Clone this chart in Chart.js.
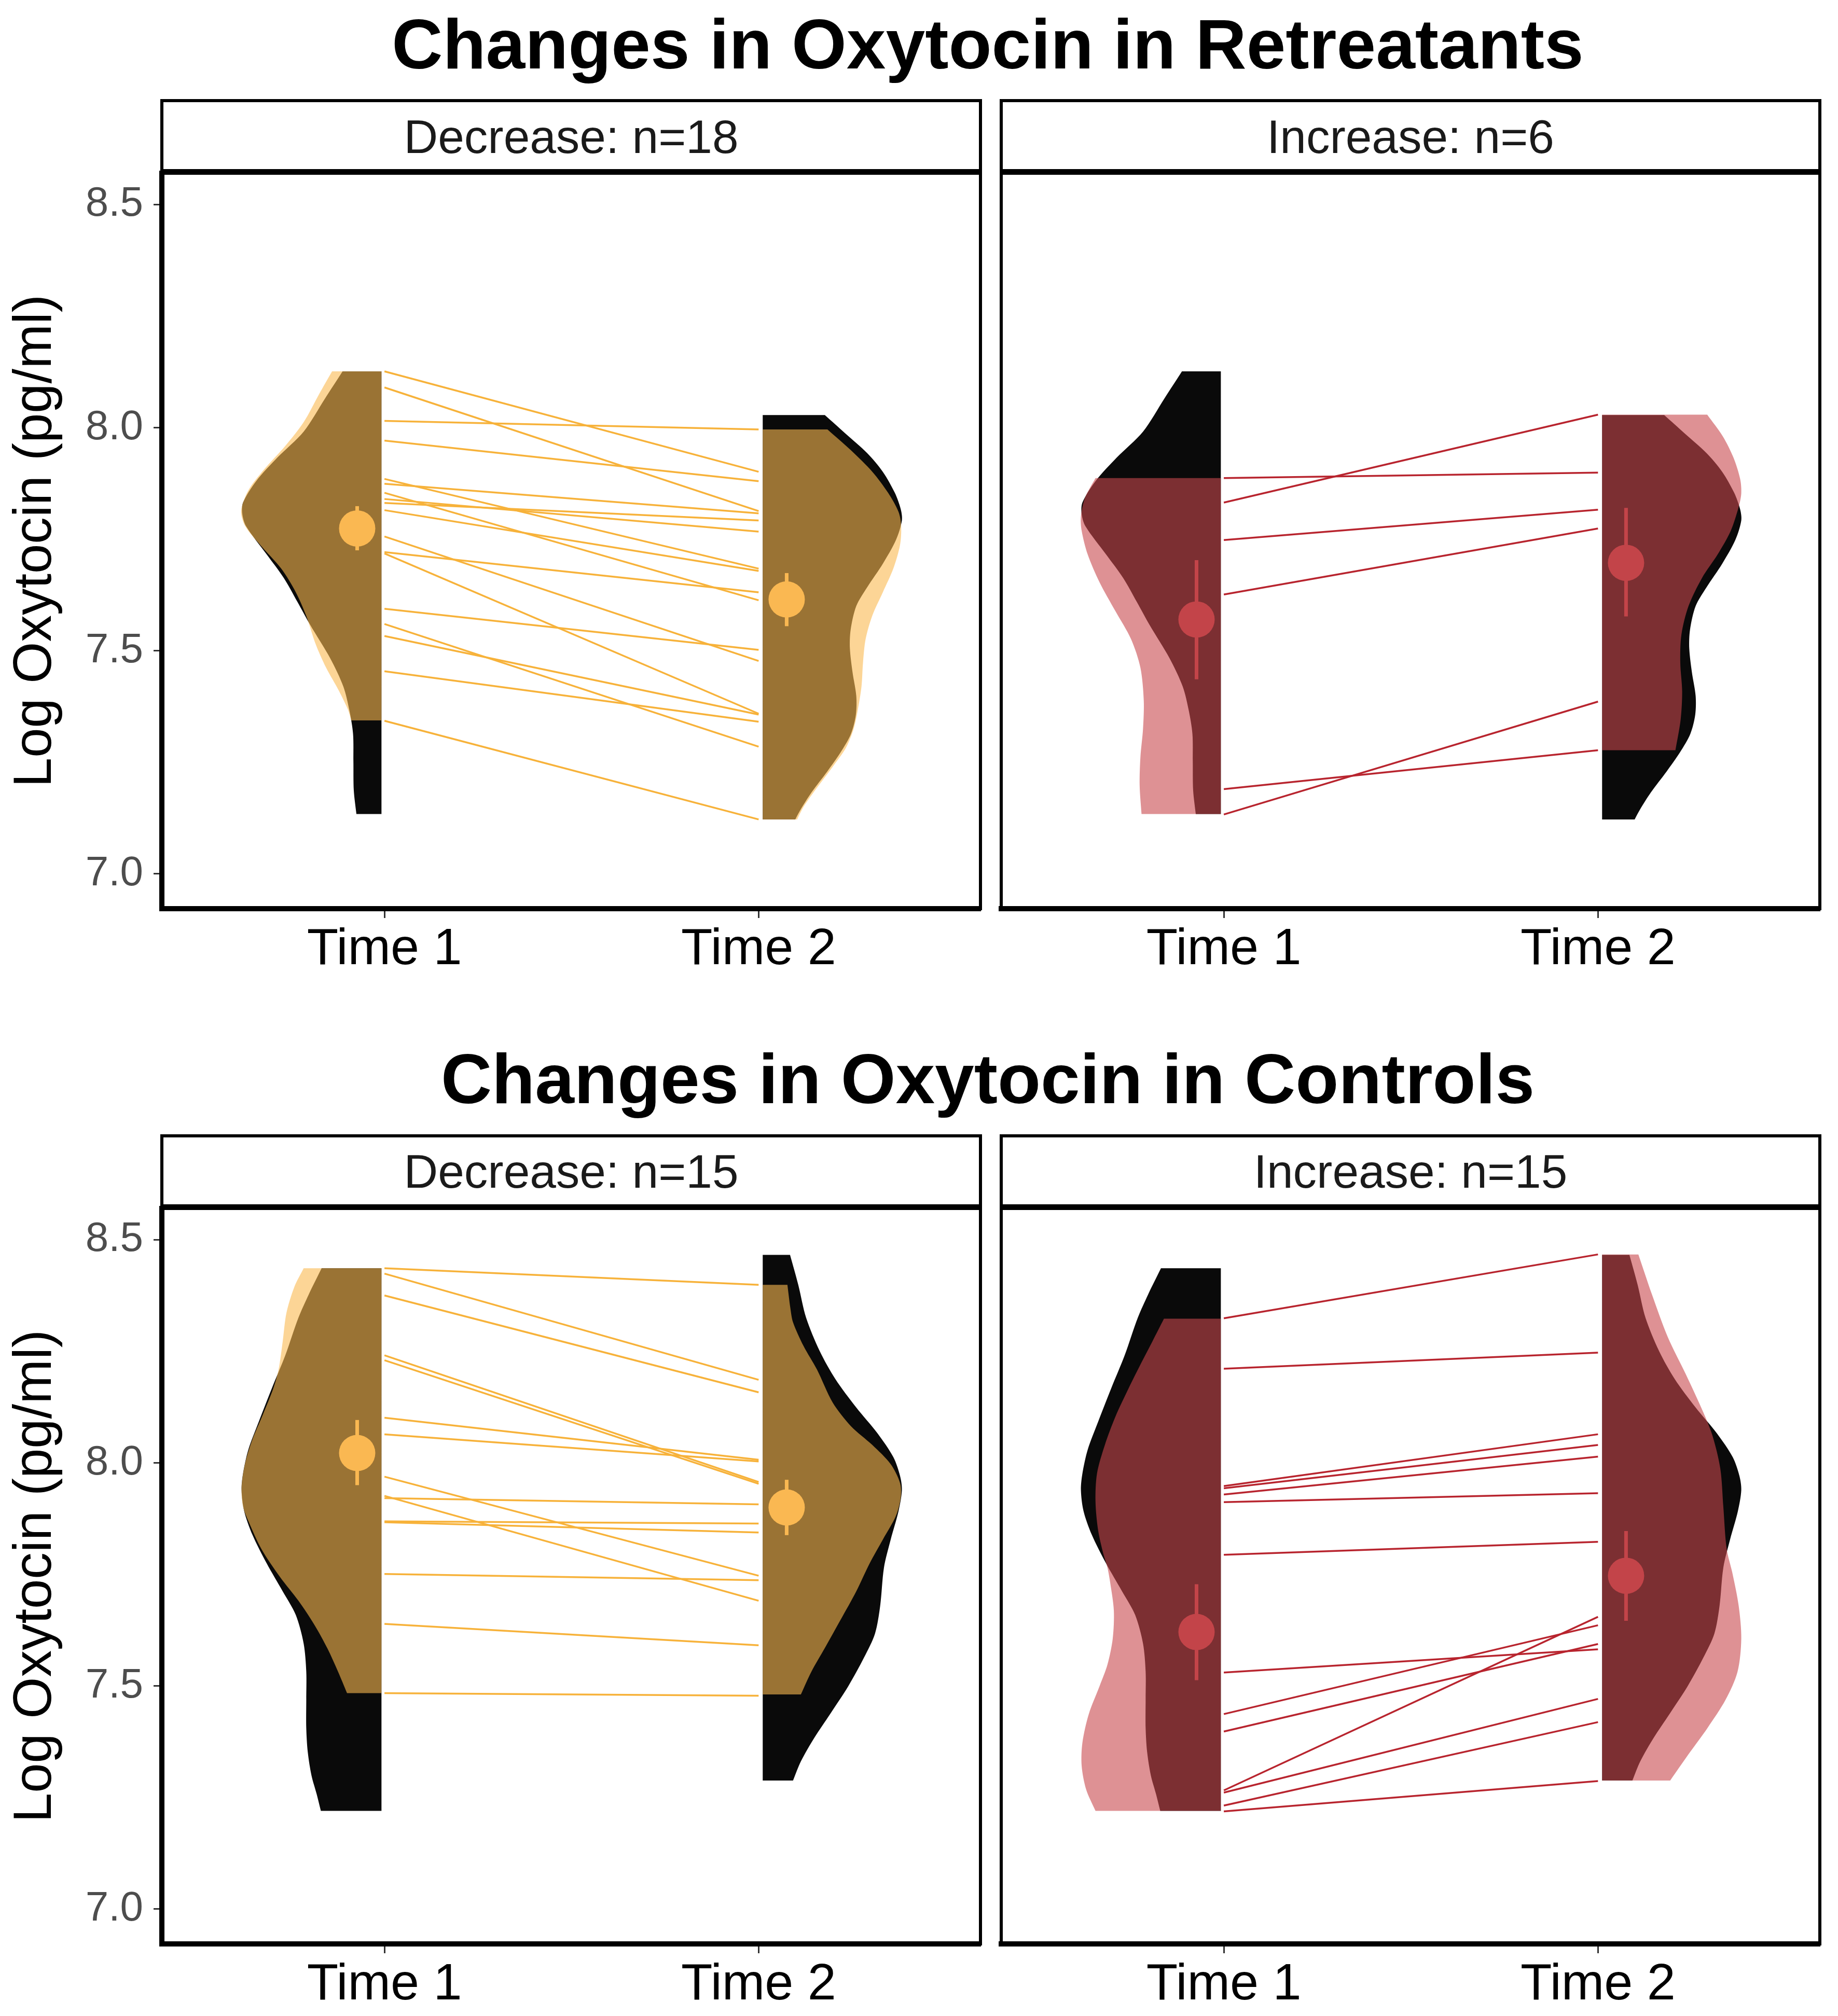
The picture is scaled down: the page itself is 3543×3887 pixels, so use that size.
<!DOCTYPE html>
<html>
<head>
<meta charset="utf-8">
<title>Changes in Oxytocin</title>
<script src="https://cdn.jsdelivr.net/npm/chart.js@4.4.1/dist/chart.umd.min.js"></script>
<style>
	body { margin: 0; background: #fff; }
	#page { position: relative; width: 3543px; height: 3887px; overflow: hidden; font-family: "Liberation Sans", Arial, Helvetica, sans-serif; }
	.title { position: absolute; left: 0; width: 3808px; text-align: center; font-weight: bold; font-size: 136px; line-height: 136px; white-space: nowrap; color: #000; }
	.strip { position: absolute; box-sizing: border-box; width: 1584px; height: 141px; border: 6px solid #000; background: #fff; }
	.strip-text { position: absolute; width: 1584px; text-align: center; font-size: 91px; line-height: 91px; white-space: nowrap; color: #1a1a1a; }
	canvas { position: absolute; }
</style>
</head>
<body>
<div id="page">
	<div class="title" style="top: 17px;">Changes in Oxytocin in Retreatants</div>
	<div class="strip" style="left: 309px; top: 191px;"></div>
	<div class="strip" style="left: 1927px; top: 191px;"></div>
	<div class="strip-text" style="left: 309px; top: 218px;">Decrease: n=18</div>
	<div class="strip-text" style="left: 1927px; top: 218px;">Increase: n=6</div>
	<canvas id="retDecrease" width="1902" height="1568" style="left: 0px; top: 322px;"></canvas>
	<canvas id="retIncrease" width="1610" height="1568" style="left: 1910px; top: 322px;"></canvas>

	<div class="title" style="top: 2012px;">Changes in Oxytocin in Controls</div>
	<div class="strip" style="left: 309px; top: 2187px;"></div>
	<div class="strip" style="left: 1927px; top: 2187px;"></div>
	<div class="strip-text" style="left: 309px; top: 2213px;">Decrease: n=15</div>
	<div class="strip-text" style="left: 1927px; top: 2213px;">Increase: n=15</div>
	<canvas id="conDecrease" width="1902" height="1568" style="left: 0px; top: 2318px;"></canvas>
	<canvas id="conIncrease" width="1610" height="1568" style="left: 1910px; top: 2318px;"></canvas>
</div>
<script>
// axes
const timeLabels = ["Time 1", "Time 2"];
const timeTicks = [1, 2];
const yTicks = [7.0, 7.5, 8.0, 8.5];
const violinPos = [0.992, 2.011];
const meanPos = [0.927, 2.075];

// whole-group density (black), retreatants
const retAllViolinT1Y = [8.126, 8.065, 7.991, 7.933, 7.880, 7.832, 7.806, 7.779, 7.716, 7.663, 7.610, 7.557, 7.483, 7.420, 7.367, 7.314, 7.251, 7.187, 7.134];
const retAllViolinT1W = [0.104, 0.151, 0.208, 0.278, 0.335, 0.370, 0.372, 0.362, 0.307, 0.261, 0.225, 0.190, 0.137, 0.102, 0.086, 0.076, 0.075, 0.074, 0.067];
const retAllViolinT2Y = [8.028, 7.986, 7.943, 7.901, 7.854, 7.817, 7.792, 7.748, 7.695, 7.642, 7.600, 7.547, 7.505, 7.452, 7.399, 7.357, 7.314, 7.272, 7.230, 7.182, 7.145, 7.122];
const retAllViolinT2W = [0.166, 0.222, 0.279, 0.321, 0.353, 0.369, 0.372, 0.356, 0.321, 0.279, 0.250, 0.235, 0.233, 0.240, 0.250, 0.249, 0.236, 0.208, 0.173, 0.130, 0.102, 0.087];

// whole-group density (black), controls
const conAllViolinT1Y = [8.436, 8.378, 8.325, 8.241, 8.167, 8.092, 8.029, 7.976, 7.939, 7.892, 7.839, 7.775, 7.712, 7.659, 7.595, 7.532, 7.469, 7.405, 7.352, 7.299, 7.257, 7.220];
const conAllViolinT1W = [0.160, 0.194, 0.222, 0.257, 0.293, 0.328, 0.356, 0.370, 0.374, 0.367, 0.345, 0.307, 0.264, 0.229, 0.208, 0.201, 0.201, 0.201, 0.197, 0.187, 0.173, 0.162];
const conAllViolinT2Y = [8.466, 8.399, 8.325, 8.251, 8.188, 8.124, 8.066, 8.013, 7.971, 7.939, 7.892, 7.828, 7.765, 7.680, 7.617, 7.564, 7.500, 7.437, 7.384, 7.331, 7.288];
const conAllViolinT2W = [0.073, 0.095, 0.116, 0.152, 0.194, 0.250, 0.307, 0.349, 0.367, 0.372, 0.363, 0.342, 0.324, 0.314, 0.300, 0.271, 0.229, 0.180, 0.138, 0.102, 0.081];

// retreatants, decrease
const retDecViolinT1Y = [8.126, 8.076, 8.012, 7.959, 7.906, 7.859, 7.813, 7.779, 7.737, 7.684, 7.631, 7.578, 7.515, 7.462, 7.409, 7.367, 7.344];
const retDecViolinT1W = [0.132, 0.166, 0.208, 0.257, 0.314, 0.356, 0.375, 0.364, 0.324, 0.268, 0.229, 0.201, 0.176, 0.148, 0.113, 0.089, 0.081];
const retDecViolinT2Y = [7.996, 7.949, 7.901, 7.854, 7.811, 7.780, 7.737, 7.684, 7.631, 7.579, 7.526, 7.473, 7.420, 7.367, 7.325, 7.282, 7.240, 7.193, 7.150, 7.122];
const retDecViolinT2W = [0.173, 0.236, 0.293, 0.335, 0.363, 0.370, 0.367, 0.349, 0.321, 0.293, 0.275, 0.268, 0.264, 0.254, 0.243, 0.222, 0.187, 0.145, 0.109, 0.092];
const retDecTime1 = [8.126, 8.090, 8.015, 7.971, 7.885, 7.874, 7.854, 7.840, 7.831, 7.815, 7.756, 7.721, 7.718, 7.594, 7.560, 7.533, 7.454, 7.343];
const retDecTime2 = [7.901, 7.813, 7.996, 7.880, 7.684, 7.808, 7.613, 7.767, 7.792, 7.679, 7.477, 7.631, 7.359, 7.502, 7.285, 7.357, 7.341, 7.122];
const retDecMean = [7.774, 7.615];
const retDecLow = [7.725, 7.555];
const retDecHigh = [7.824, 7.674];

// retreatants, increase
const retIncViolinT1Y = [7.887, 7.843, 7.801, 7.769, 7.716, 7.653, 7.589, 7.526, 7.462, 7.388, 7.325, 7.261, 7.198, 7.134];
const retIncViolinT1W = [0.335, 0.363, 0.374, 0.372, 0.356, 0.324, 0.282, 0.240, 0.215, 0.206, 0.208, 0.215, 0.217, 0.212];
const retIncViolinT2Y = [8.029, 7.980, 7.933, 7.885, 7.853, 7.822, 7.769, 7.716, 7.663, 7.600, 7.536, 7.473, 7.409, 7.346, 7.277];
const retIncViolinT2W = [0.281, 0.323, 0.351, 0.369, 0.372, 0.365, 0.344, 0.309, 0.267, 0.231, 0.212, 0.209, 0.214, 0.210, 0.196];
const retIncTime1 = [7.887, 7.832, 7.748, 7.626, 7.190, 7.133];
const retIncTime2 = [7.899, 8.029, 7.816, 7.774, 7.277, 7.386];
const retIncMean = [7.570, 7.697];
const retIncLow = [7.436, 7.577];
const retIncHigh = [7.703, 7.820];

// controls, decrease
const conDecViolinT1Y = [8.436, 8.394, 8.336, 8.272, 8.209, 8.167, 8.108, 8.050, 7.997, 7.945, 7.902, 7.870, 7.807, 7.744, 7.691, 7.638, 7.585, 7.532, 7.484];
const conDecViolinT1W = [0.208, 0.233, 0.254, 0.264, 0.275, 0.289, 0.317, 0.346, 0.365, 0.374, 0.370, 0.356, 0.321, 0.271, 0.222, 0.180, 0.145, 0.116, 0.092];
const conDecViolinT2Y = [8.399, 8.346, 8.315, 8.262, 8.209, 8.135, 8.082, 8.040, 7.997, 7.955, 7.923, 7.881, 7.828, 7.775, 7.712, 7.648, 7.585, 7.532, 7.481];
const conDecViolinT2W = [0.066, 0.074, 0.081, 0.109, 0.145, 0.187, 0.236, 0.293, 0.342, 0.367, 0.369, 0.356, 0.321, 0.286, 0.250, 0.208, 0.166, 0.130, 0.102];
const conDecTime1 = [8.436, 8.424, 8.375, 8.241, 8.230, 8.101, 8.064, 7.969, 7.926, 7.921, 7.869, 7.867, 7.751, 7.639, 7.484];
const conDecTime2 = [8.399, 8.186, 8.158, 7.957, 7.953, 8.007, 8.003, 7.747, 7.691, 7.907, 7.864, 7.844, 7.737, 7.591, 7.478];
const conDecMean = [8.022, 7.900];
const conDecLow = [7.950, 7.838];
const conDecHigh = [8.096, 7.962];

// controls, increase
const conIncViolinT1Y = [8.323, 8.272, 8.225, 8.166, 8.103, 8.040, 7.976, 7.913, 7.849, 7.796, 7.765, 7.733, 7.669, 7.606, 7.548, 7.500, 7.437, 7.373, 7.321, 7.268, 7.220];
const conIncViolinT1W = [0.152, 0.183, 0.212, 0.247, 0.282, 0.310, 0.331, 0.335, 0.328, 0.314, 0.303, 0.296, 0.286, 0.289, 0.303, 0.324, 0.353, 0.370, 0.372, 0.360, 0.335];
const conIncViolinT2Y = [8.467, 8.378, 8.283, 8.198, 8.114, 8.061, 7.987, 7.902, 7.807, 7.754, 7.680, 7.606, 7.532, 7.469, 7.405, 7.347, 7.288];
const conIncViolinT2W = [0.097, 0.133, 0.175, 0.224, 0.270, 0.295, 0.316, 0.324, 0.333, 0.348, 0.365, 0.372, 0.362, 0.330, 0.281, 0.231, 0.182];
const conIncTime1 = [8.324, 8.211, 7.948, 7.943, 7.929, 7.912, 7.794, 7.530, 7.437, 7.398, 7.266, 7.261, 7.232, 7.219];
const conIncTime2 = [8.467, 8.247, 8.064, 8.040, 8.014, 7.932, 7.823, 7.582, 7.636, 7.594, 7.655, 7.471, 7.419, 7.287];
const conIncMean = [7.621, 7.747];
const conIncLow = [7.513, 7.646];
const conIncHigh = [7.728, 7.847];

const fontFamily = '"Liberation Sans", Arial, Helvetica, sans-serif';
const blackFill = "#0a0a0a";
const orange = { point: "rgb(250,184,82)", fill: "rgba(250,185,80,0.6)", line: "rgb(247,178,58)" };
const red = { point: "rgb(195,68,73)", fill: "rgba(200,71,76,0.6)", line: "rgb(184,36,46)" };

// flat violin: closed outline from the base line out to the density width
function halfViolin(base, side, ys, ws) {
	const n = ys.length;
	const pts = [{ x: base, y: ys[0] }, { x: base + side * ws[0], y: ys[0] }];
	for (let i = 0; i < n; i++) {
		pts.push({ x: base + side * ws[i], y: ys[i] });
	}
	pts.push({ x: base + side * ws[n - 1], y: ys[n - 1] });
	pts.push({ x: base, y: ys[n - 1] });
	return pts;
}

function violinSet(points, color, order) {
	return {
		data: points,
		fill: "shape",
		backgroundColor: color,
		borderWidth: 0,
		pointRadius: 0,
		tension: 0.3,
		order: order,
	};
}

const panelBox = {
	id: "panelBox",
	afterDatasetsDraw(chart) {
		const { ctx, chartArea } = chart;
		ctx.save();
		ctx.strokeStyle = "#000";
		ctx.lineWidth = 6;
		ctx.strokeRect(chartArea.left, chartArea.top, chartArea.right - chartArea.left, chartArea.bottom - chartArea.top);
		ctx.restore();
	},
};

function drawPanel(canvasId, p) {
	let datasets = [];
	datasets.push(violinSet(halfViolin(violinPos[0], -1, p.allT1Y, p.allT1W), blackFill, 5));
	datasets.push(violinSet(halfViolin(violinPos[1], 1, p.allT2Y, p.allT2W), blackFill, 5));
	datasets.push(violinSet(halfViolin(violinPos[0], -1, p.grpT1Y, p.grpT1W), p.color.fill, 4));
	datasets.push(violinSet(halfViolin(violinPos[1], 1, p.grpT2Y, p.grpT2W), p.color.fill, 4));

	p.time1.forEach((v, i) => {
		datasets.push({
			data: [{ x: timeTicks[0], y: v }, { x: timeTicks[1], y: p.time2[i] }],
			borderColor: p.color.line,
			borderWidth: 3.5,
			pointRadius: 0,
			tension: 0,
			order: 3,
		});
	});

	for (let t = 0; t < 2; t++) {
		datasets.push({
			data: [{ x: meanPos[t], y: p.low[t] }, { x: meanPos[t], y: p.high[t] }],
			borderColor: p.color.point,
			borderWidth: 7,
			borderCapStyle: "butt",
			pointRadius: 0,
			order: 2,
		});
	}
	datasets.push({
		data: p.mean.map((v, t) => ({ x: meanPos[t], y: v })),
		showLine: false,
		pointRadius: 35,
		pointBorderWidth: 0,
		pointBackgroundColor: p.color.point,
		order: 1,
	});

	const showY = p.showY;
	return new Chart(document.getElementById(canvasId), {
		type: "line",
		data: { datasets: datasets },
		options: {
			responsive: false,
			animation: false,
			events: [],
			layout: { autoPadding: false, padding: { top: 12, right: 12, left: 0, bottom: 0 } },
			plugins: {
				legend: { display: false },
				tooltip: { enabled: false },
			},
			scales: {
				x: {
					type: "linear",
					min: 0.405,
					max: 2.593,
					afterBuildTicks: (scale) => {
						scale.ticks = timeTicks.map((v) => ({ value: v }));
					},
					afterFit: (scale) => {
						scale.height = 138;
						scale.paddingLeft = 0;
						scale.paddingRight = 0;
					},
					ticks: {
						autoSkip: false,
						maxRotation: 0,
						padding: 2,
						color: "#000",
						font: { family: fontFamily, size: 99 },
						callback: (value, index) => timeLabels[index],
					},
					grid: {
						drawOnChartArea: false,
						drawTicks: true,
						tickLength: 18,
						tickWidth: 3,
						tickColor: "#333",
					},
					border: { display: true, width: 10, color: "#000" },
				},
				y: {
					type: "linear",
					min: 6.922,
					max: 8.57,
					afterBuildTicks: (scale) => {
						scale.ticks = yTicks.map((v) => ({ value: v }));
					},
					afterFit: (scale) => {
						scale.width = showY ? 312 : 20;
						scale.paddingTop = 0;
						scale.paddingBottom = 0;
					},
					ticks: {
						display: showY,
						padding: 20,
						color: "#4d4d4d",
						font: { family: fontFamily, size: 80 },
						callback: (value) => value.toFixed(1),
					},
					grid: {
						drawOnChartArea: false,
						drawTicks: showY,
						tickLength: 16,
						tickWidth: 3,
						tickColor: "#333",
					},
					border: { display: true, width: showY ? 10 : 6, color: "#000" },
					title: {
						display: showY,
						text: "Log Oxytocin (pg/ml)",
						color: "#000",
						font: { family: fontFamily, size: 103, lineHeight: 1 },
						padding: { top: 18, bottom: 0 },
					},
				},
			},
		},
		plugins: [panelBox],
	});
}

drawPanel("retDecrease", {
	showY: true, color: orange,
	allT1Y: retAllViolinT1Y, allT1W: retAllViolinT1W, allT2Y: retAllViolinT2Y, allT2W: retAllViolinT2W,
	grpT1Y: retDecViolinT1Y, grpT1W: retDecViolinT1W, grpT2Y: retDecViolinT2Y, grpT2W: retDecViolinT2W,
	time1: retDecTime1, time2: retDecTime2, mean: retDecMean, low: retDecLow, high: retDecHigh,
});
drawPanel("retIncrease", {
	showY: false, color: red,
	allT1Y: retAllViolinT1Y, allT1W: retAllViolinT1W, allT2Y: retAllViolinT2Y, allT2W: retAllViolinT2W,
	grpT1Y: retIncViolinT1Y, grpT1W: retIncViolinT1W, grpT2Y: retIncViolinT2Y, grpT2W: retIncViolinT2W,
	time1: retIncTime1, time2: retIncTime2, mean: retIncMean, low: retIncLow, high: retIncHigh,
});
drawPanel("conDecrease", {
	showY: true, color: orange,
	allT1Y: conAllViolinT1Y, allT1W: conAllViolinT1W, allT2Y: conAllViolinT2Y, allT2W: conAllViolinT2W,
	grpT1Y: conDecViolinT1Y, grpT1W: conDecViolinT1W, grpT2Y: conDecViolinT2Y, grpT2W: conDecViolinT2W,
	time1: conDecTime1, time2: conDecTime2, mean: conDecMean, low: conDecLow, high: conDecHigh,
});
drawPanel("conIncrease", {
	showY: false, color: red,
	allT1Y: conAllViolinT1Y, allT1W: conAllViolinT1W, allT2Y: conAllViolinT2Y, allT2W: conAllViolinT2W,
	grpT1Y: conIncViolinT1Y, grpT1W: conIncViolinT1W, grpT2Y: conIncViolinT2Y, grpT2W: conIncViolinT2W,
	time1: conIncTime1, time2: conIncTime2, mean: conIncMean, low: conIncLow, high: conIncHigh,
});
</script>
</body>
</html>
